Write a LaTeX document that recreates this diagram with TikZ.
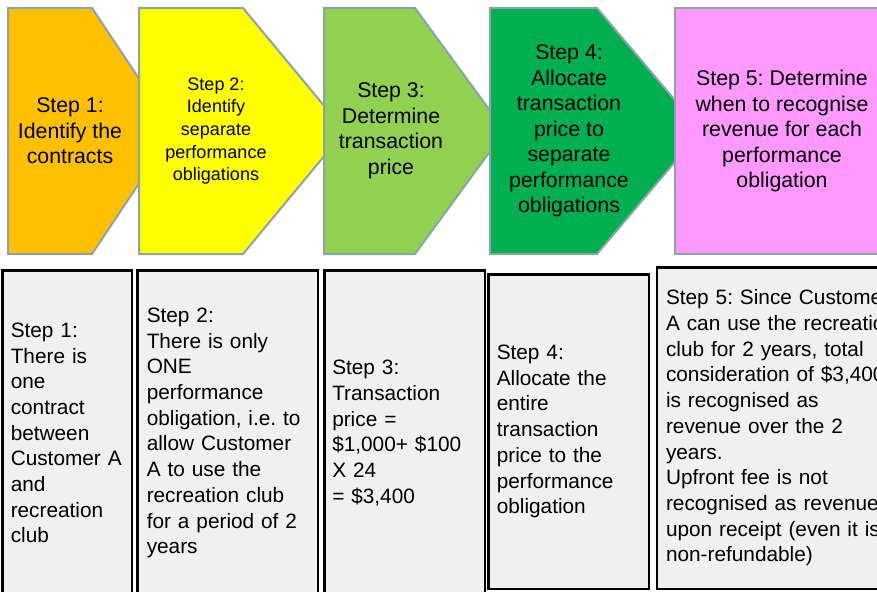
\documentclass[tikz,border=0pt]{standalone}
\usepackage{fontspec}
\setmainfont{Liberation Sans}
\frenchspacing
\definecolor{edgegrey}{HTML}{8DA3AA}
\definecolor{stepone}{HTML}{FFC000}
\definecolor{steptwo}{HTML}{FFFF00}
\definecolor{stepthree}{HTML}{92D050}
\definecolor{stepfour}{HTML}{00B050}
\definecolor{stepfive}{HTML}{FF99FF}
\definecolor{notegrey}{HTML}{F0F0F0}
\begin{document}
\begin{tikzpicture}[x=1pt,y=-1pt]
\tikzstyle{stepshape}=[draw=edgegrey,line width=2pt]
\tikzstyle{steptext}=[align=center,inner sep=0pt,font=\fontsize{21.3}{25.5}\selectfont]
\tikzstyle{notebox}=[draw=black,line width=2.5pt,fill=notegrey,align=left,
inner ysep=0pt,font=\fontsize{20.8}{25.7}\selectfont]

\useasboundingbox (0,0) rectangle (877,591);
\clip (0,0) rectangle (877,591);

% arrows of the five steps, each one over the tip of the one before
\foreach \xl/\xc/\xt/\col in {8/92/174/stepone,139/243/345/steptwo,
  324/415/505/stepthree,490/597/701/stepfour}
  \filldraw [stepshape,fill=\col] (\xl,8) -- (\xc,8) -- (\xt,131) -- (\xc,254) -- (\xl,254) -- cycle;
\filldraw [stepshape,fill=stepfive] (675,8) rectangle (910,254);

\draw (70,131) node (s1) [steptext] {Step 1:\\Identify the\\contracts};
\draw (216,131) node (s2) [steptext,font=\fontsize{18}{22.7}\selectfont] {Step 2:\\Identify\\separate\\performance\\obligations};
\draw (391,131) node (s3) [steptext] {Step 3:\\Determine\\transaction\\price};
\draw (569,131) node (s4) [steptext] {Step 4:\\Allocate\\transaction\\price to\\separate\\performance\\obligations};
\draw (782,131) node (s5) [steptext] {Step 5: Determine\\when to recognise\\revenue for each\\performance\\obligation};

% the notes under each step
\draw (67,433) node (n1) [notebox,minimum width=129.5,minimum height=325.5,
inner xsep=8.5pt,text width=112.5] {Step 1:\\There is\\one\\contract\\between\\Customer A\\and\\recreation\\club};
\draw (227.5,433) node (n2) [notebox,minimum width=180.5,minimum height=325.5,
inner xsep=9.5pt,text width=161.5] {Step 2:\\There is only\\ONE\\performance\\obligation, i.e. to\\allow Customer\\A to use the\\recreation club\\for a period of 2\\years};
\draw (404.5,433) node (n3) [notebox,minimum width=160.5,minimum height=325.5,
inner xsep=8pt,text width=144.5] {Step 3:\\Transaction\\price =\\\$1,000+ \$100\\X 24\\= \$3,400};
\draw (568.5,431.5) node (n4) [notebox,minimum width=160.5,minimum height=314.5,
inner xsep=8.5pt,text width=143.5] {Step 4:\\Allocate the\\entire\\transaction\\price to the\\performance\\obligation};
\draw (807,428) node (n5) [notebox,minimum width=300,minimum height=321.5,
inner xsep=9pt,text width=282] {Step 5: Since Customer\\A can use the recreation\\club for 2 years, total\\consideration of \$3,400\\is recognised as\\revenue over the 2\\years.\\Upfront fee is not\\recognised as revenue\\upon receipt (even it is\\non-refundable)};
\end{tikzpicture}
\end{document}
